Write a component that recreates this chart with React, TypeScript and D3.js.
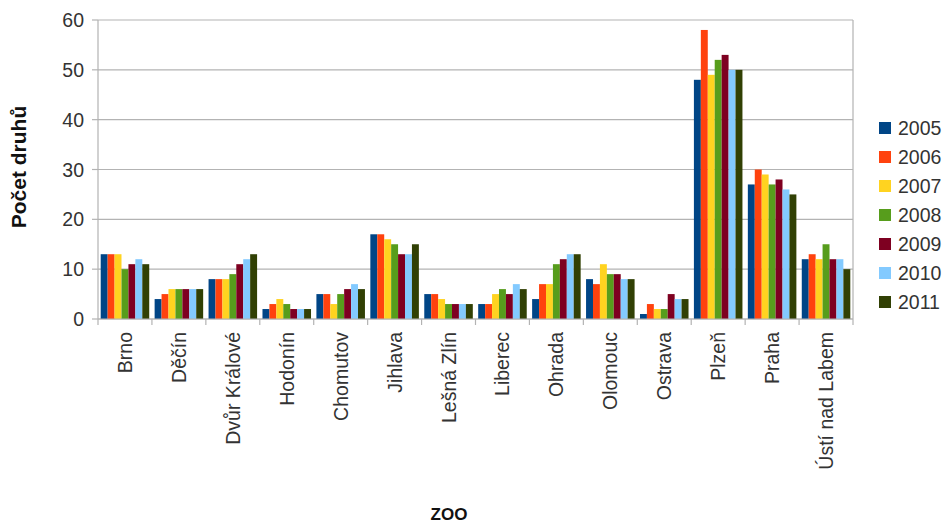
import React from "react";
import * as d3 from "d3";

const zoos = [
  "Brno", "Děčín", "Dvůr Králové", "Hodonín", "Chomutov", "Jihlava", "Lešná Zlín",
  "Liberec", "Ohrada", "Olomouc", "Ostrava", "Plzeň", "Praha", "Ústí nad Labem",
];
const years = ["2005", "2006", "2007", "2008", "2009", "2010", "2011"];
const colors = ["#004586", "#ff420e", "#ffd320", "#579d1c", "#7e0021", "#83caff", "#314004"];

// values per zoo, one per year 2005..2011
const counts = [
  [13, 13, 13, 10, 11, 12, 11],
  [4, 5, 6, 6, 6, 6, 6],
  [8, 8, 8, 9, 11, 12, 13],
  [2, 3, 4, 3, 2, 2, 2],
  [5, 5, 3, 5, 6, 7, 6],
  [17, 17, 16, 15, 13, 13, 15],
  [5, 5, 4, 3, 3, 3, 3],
  [3, 3, 5, 6, 5, 7, 6],
  [4, 7, 7, 11, 12, 13, 13],
  [8, 7, 11, 9, 9, 8, 8],
  [1, 3, 2, 2, 5, 4, 4],
  [48, 58, 49, 52, 53, 50, 50],
  [27, 30, 29, 27, 28, 26, 25],
  [12, 13, 12, 15, 12, 12, 10],
];
const yTicks = [0, 10, 20, 30, 40, 50, 60];

const W = 948;
const H = 524;
const left = 98;
const right = 853;
const top = 20;
const bottom = 319;

export default function App() {
  const x = d3.scaleBand<string>().domain(zoos).range([left, right]).paddingInner(0.1).paddingOuter(0.05);
  const xs = d3.scaleBand<string>().domain(years).range([0, x.bandwidth()]);
  const y = d3.scaleLinear().domain([0, 60]).range([bottom, top]);
  const step = (right - left) / zoos.length;
  const font = "'Liberation Sans', Arial, sans-serif";

  return (
    <svg width={W} height={H} style={{ position: "absolute", left: 0, top: 0 }} fontFamily={font}>
      <rect width={W} height={H} fill="#fff" />
      {yTicks.map((t) => (
        <g key={t}>
          <line x1={left} x2={right} y1={y(t)} y2={y(t)} stroke="#b3b3b3" strokeWidth={1.2} />
          <line x1={left - 6} x2={left} y1={y(t)} y2={y(t)} stroke="#b3b3b3" strokeWidth={1.2} />
          <text x={left - 14} y={y(t)} dy="0.36em" textAnchor="end" fontSize={19.5} fill="#333">
            {t}
          </text>
        </g>
      ))}
      <line x1={right} x2={right} y1={top} y2={bottom} stroke="#b3b3b3" strokeWidth={1.2} />
      {counts.map((row, i) => (
        <g key={zoos[i]} transform={`translate(${x(zoos[i])},0)`}>
          {row.map((v, j) => (
            <rect key={j} x={xs(years[j])} y={y(v)} width={xs.bandwidth()} height={y(0) - y(v)} fill={colors[j]} />
          ))}
        </g>
      ))}
      <line x1={left} x2={left} y1={top} y2={bottom + 6} stroke="#b3b3b3" strokeWidth={1.2} />
      <line x1={left} x2={right} y1={bottom} y2={bottom} stroke="#b3b3b3" strokeWidth={1.2} />
      {zoos.map((z, i) => (
        <g key={z}>
          <line x1={left + step * (i + 1)} x2={left + step * (i + 1)} y1={bottom} y2={bottom + 6} stroke="#b3b3b3" strokeWidth={1.2} />
          <text
            transform={`translate(${x(z)! + x.bandwidth() / 2},${bottom + 13}) rotate(-90)`}
            dy="0.36em"
            textAnchor="end"
            fontSize={19.5}
            fill="#333"
          >
            {z}
          </text>
        </g>
      ))}
      <text transform="translate(26,167) rotate(-90)" textAnchor="middle" fontSize={21} fontWeight="bold" fill="#111">
        Počet druhů
      </text>
      <text x={449} y={520} textAnchor="middle" fontSize={17} fontWeight="bold" fill="#111">
        ZOO
      </text>
      {years.map((yr, j) => (
        <g key={yr} transform={`translate(879,${128 + j * 29})`}>
          <rect x={0} y={-6} width={12} height={12} fill={colors[j]} />
          <text x={19} dy="0.36em" fontSize={19.5} fill="#333">
            {yr}
          </text>
        </g>
      ))}
    </svg>
  );
}
